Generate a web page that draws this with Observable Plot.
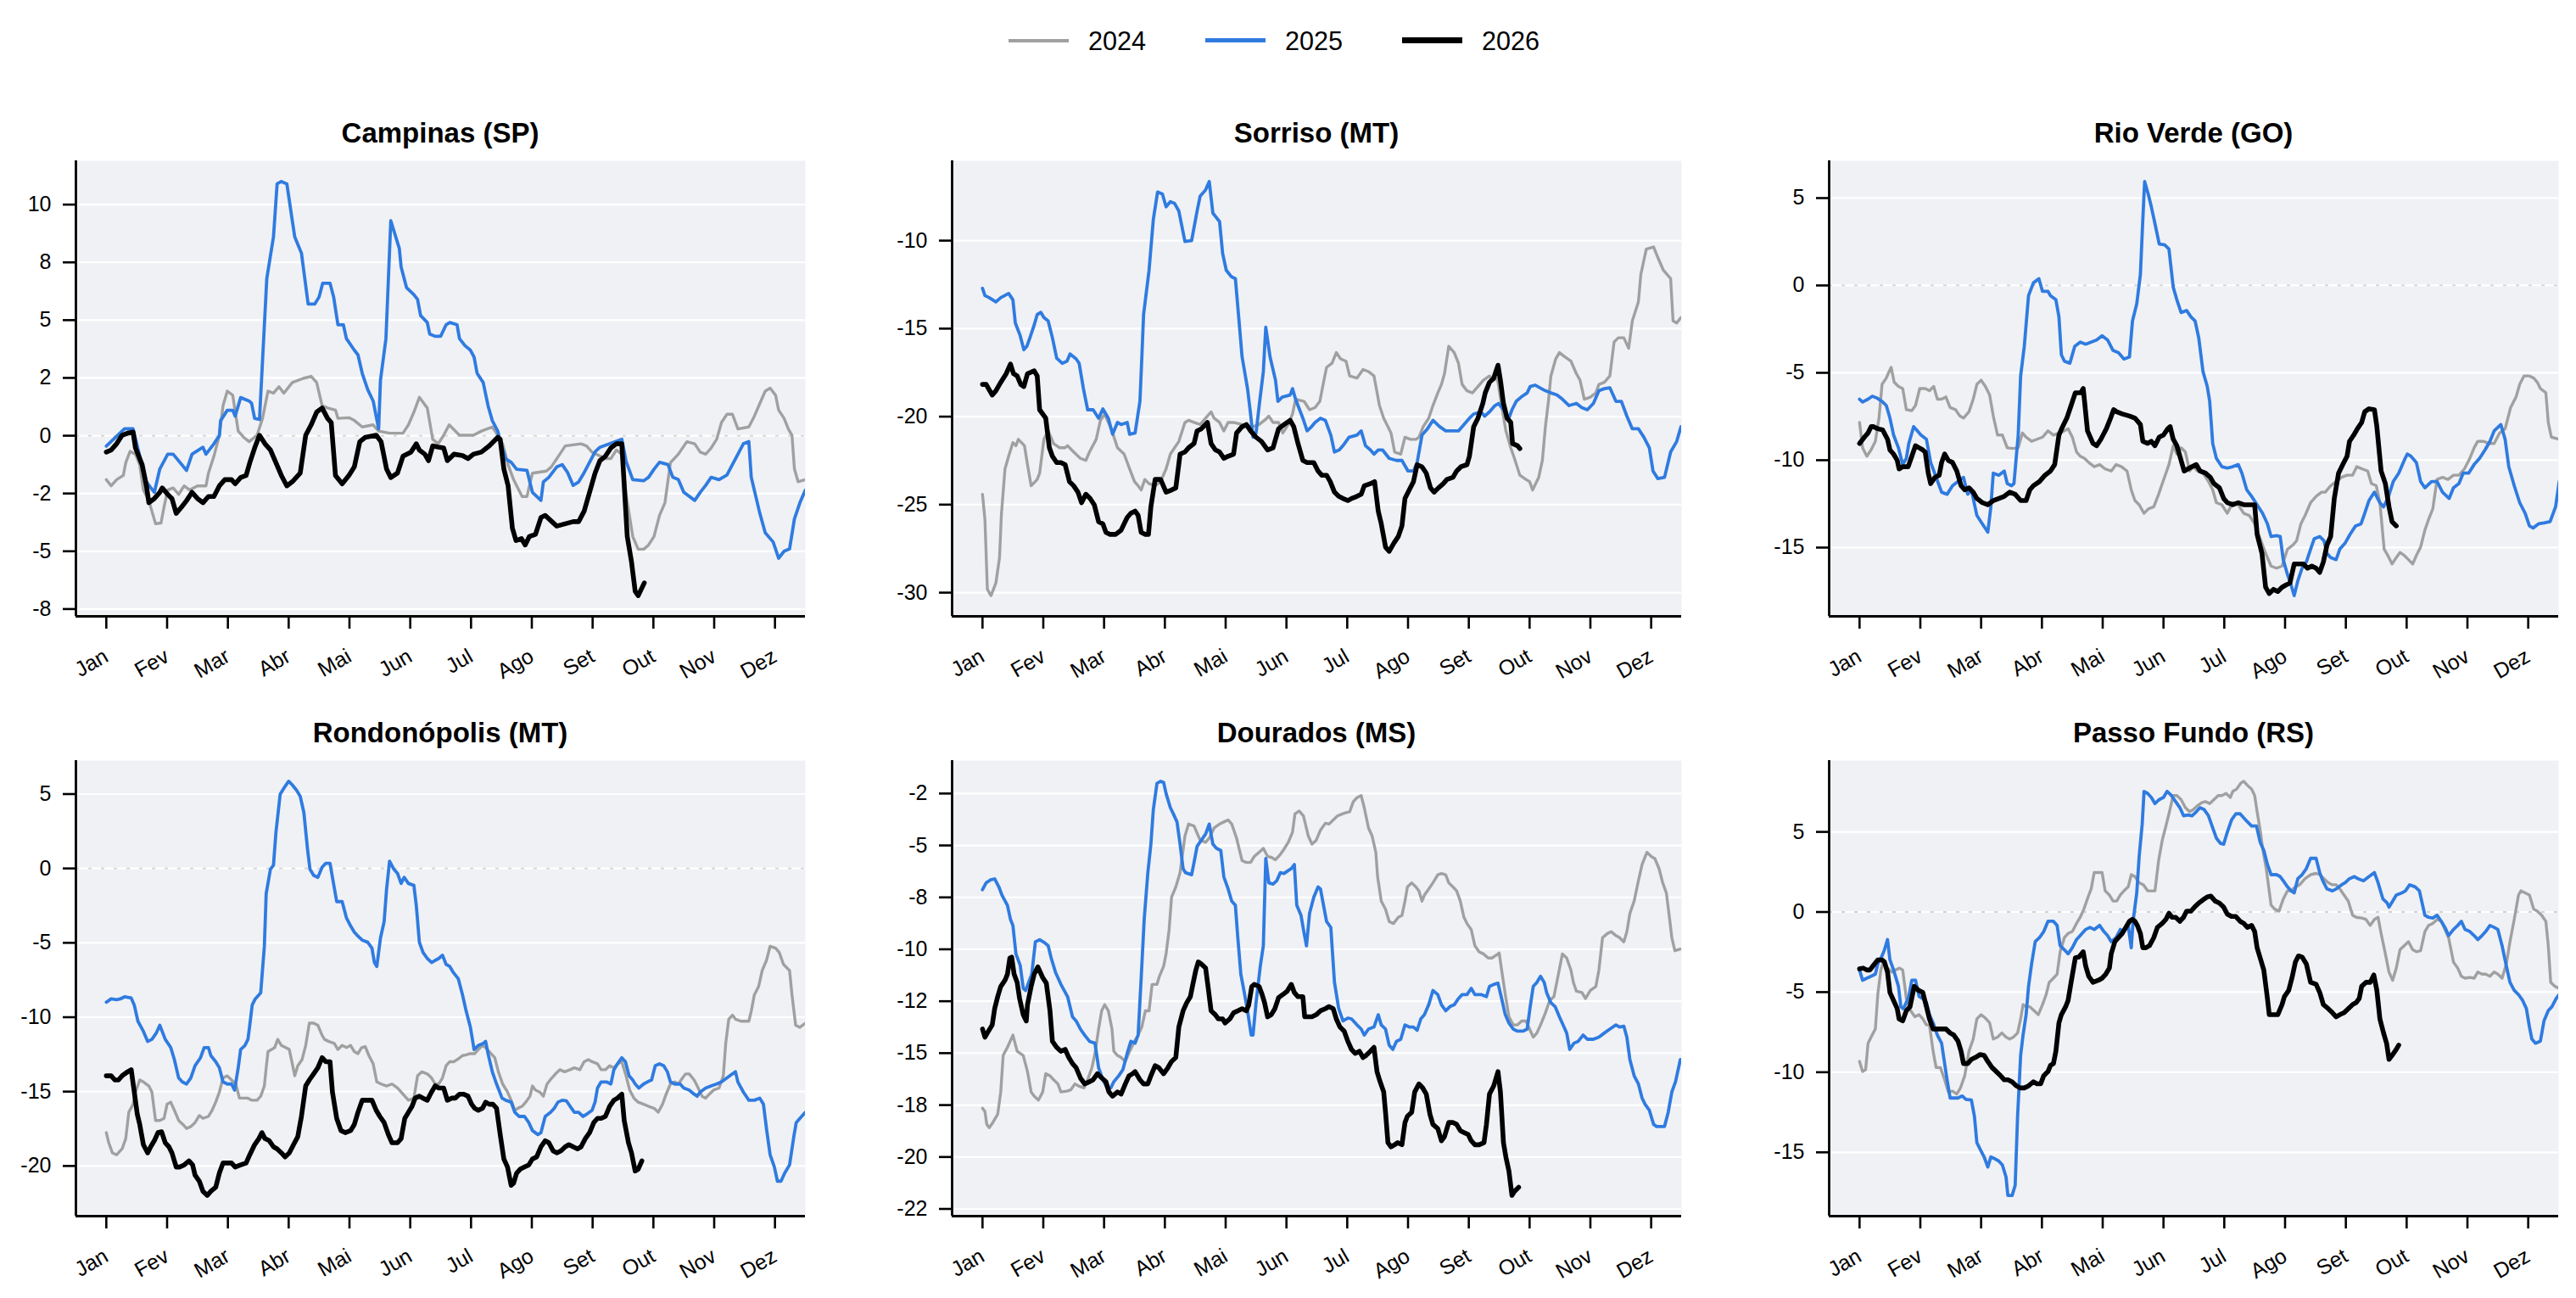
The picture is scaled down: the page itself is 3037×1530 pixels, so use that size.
<!DOCTYPE html>
<html><head><meta charset="utf-8">
<script src="https://cdn.jsdelivr.net/npm/d3@7"></script>
<script src="https://cdn.jsdelivr.net/npm/@observablehq/plot@0.6"></script>
<style>
html,body{margin:0;padding:0;background:#fff;}
#root{position:relative;width:3037px;height:1530px;font-family:"Liberation Sans",Arial,Helvetica,sans-serif;color:#000;overflow:hidden;}
.title{position:absolute;font-weight:bold;font-size:33px;text-align:center;line-height:40px;white-space:nowrap;}
.leg{position:absolute;font-size:30.6px;line-height:40px;}
.sw{position:absolute;height:0;}
.panel{position:absolute;}
</style></head><body><div id="root"></div>
<script>
const months = ["Jan","Fev","Mar","Abr","Mai","Jun","Jul","Ago","Set","Out","Nov","Dez"];
const years = ["2024","2025","2026"];
const cities = ["Campinas (SP)","Sorriso (MT)","Rio Verde (GO)","Rondonópolis (MT)","Dourados (MS)","Passo Fundo (RS)"];
const tickSteps = [2.5,5,5,5,2.5,5];

// [month position (Jan = 0), value]
const campinas2024 = [[0.00,-1.90],[0.08,-2.17],[0.17,-1.90],[0.28,-1.72],[0.32,-1.17],[0.39,-0.68],[0.48,-0.80],[0.55,-1.26],[0.61,-2.35],[0.70,-2.81],[0.81,-3.81],[0.90,-3.78],[0.95,-3.08],[1.01,-2.35],[1.10,-2.26],[1.19,-2.54],[1.28,-2.17],[1.37,-2.35],[1.50,-2.17],[1.64,-2.17],[1.68,-1.62],[1.77,-0.89],[1.86,0.02],[1.92,1.30],[1.99,1.93],[2.08,1.75],[2.17,0.20],[2.26,-0.07],[2.35,-0.26],[2.48,0.02],[2.57,0.75],[2.66,1.93],[2.75,1.84],[2.84,2.12],[2.92,1.84],[3.06,2.30],[3.24,2.48],[3.37,2.57],[3.46,2.30],[3.55,1.30],[3.64,1.20],[3.77,1.11],[3.81,0.75],[3.99,0.78],[4.08,0.66],[4.21,0.38],[4.39,0.47],[4.48,0.20],[4.66,0.11],[4.88,0.11],[4.97,0.47],[5.06,1.02],[5.15,1.66],[5.28,1.20],[5.37,-0.16],[5.46,-0.35],[5.55,0.02],[5.64,0.47],[5.81,0.02],[6.04,0.02],[6.17,0.20],[6.35,0.38],[6.44,0.02],[6.52,-0.35],[6.61,-1.26],[6.70,-1.90],[6.84,-2.63],[6.92,-2.63],[7.01,-1.62],[7.24,-1.53],[7.32,-1.35],[7.46,-0.80],[7.55,-0.44],[7.81,-0.35],[7.90,-0.44],[7.99,-0.71],[8.21,-0.99],[8.30,-0.99],[8.39,-0.62],[8.48,-0.80],[8.55,-2.54],[8.66,-4.36],[8.75,-4.91],[8.84,-4.91],[8.92,-4.73],[9.01,-4.36],[9.10,-3.45],[9.19,-2.90],[9.28,-1.17],[9.41,-0.80],[9.55,-0.26],[9.68,-0.35],[9.77,-0.71],[9.86,-0.80],[9.95,-0.53],[10.04,-0.16],[10.12,0.57],[10.21,0.93],[10.30,0.93],[10.39,0.29],[10.57,0.38],[10.66,0.84],[10.75,1.39],[10.84,1.93],[10.92,2.06],[11.01,1.75],[11.06,1.11],[11.15,0.75],[11.22,0.29],[11.28,0.02],[11.32,-1.44],[11.38,-1.99],[11.50,-1.90]];
const campinas2025 = [[0.00,-0.45],[0.08,-0.25],[0.30,0.30],[0.44,0.30],[0.57,-1.10],[0.66,-2.00],[0.79,-2.45],[0.88,-1.44],[1.01,-0.80],[1.10,-0.80],[1.32,-1.50],[1.41,-0.80],[1.59,-0.50],[1.64,-0.80],[1.77,-0.35],[1.86,0.00],[1.88,0.65],[1.99,1.10],[2.08,1.10],[2.12,0.85],[2.21,1.65],[2.35,1.50],[2.39,1.40],[2.44,0.75],[2.52,0.70],[2.64,6.80],[2.75,8.60],[2.81,10.90],[2.88,11.00],[2.97,10.90],[3.06,9.30],[3.10,8.60],[3.21,7.90],[3.32,5.70],[3.43,5.70],[3.50,6.00],[3.56,6.60],[3.68,6.60],[3.74,6.00],[3.81,4.80],[3.90,4.80],[3.95,4.20],[4.08,3.70],[4.14,3.50],[4.21,2.70],[4.30,2.00],[4.39,1.50],[4.48,0.30],[4.51,2.40],[4.60,4.20],[4.68,9.30],[4.75,8.70],[4.82,8.10],[4.85,7.30],[4.94,6.40],[5.06,6.10],[5.12,5.90],[5.17,5.20],[5.28,4.90],[5.32,4.40],[5.41,4.30],[5.50,4.30],[5.59,4.80],[5.65,4.90],[5.77,4.80],[5.81,4.20],[5.90,3.90],[5.99,3.70],[6.05,3.40],[6.10,2.70],[6.20,2.30],[6.28,1.30],[6.35,0.65],[6.44,0.20],[6.48,-0.25],[6.57,-1.00],[6.66,-1.15],[6.75,-1.45],[6.92,-1.50],[7.01,-2.45],[7.15,-2.80],[7.19,-2.00],[7.28,-1.80],[7.41,-1.35],[7.50,-1.25],[7.59,-1.60],[7.68,-2.15],[7.77,-2.00],[7.86,-1.60],[7.95,-1.15],[8.04,-0.70],[8.12,-0.50],[8.48,-0.15],[8.55,-1.10],[8.66,-1.90],[8.84,-1.95],[8.92,-1.80],[9.01,-1.45],[9.10,-1.15],[9.24,-1.25],[9.32,-1.80],[9.41,-1.90],[9.50,-2.45],[9.68,-2.80],[9.77,-2.45],[9.86,-2.15],[9.95,-1.80],[10.08,-1.90],[10.21,-1.70],[10.30,-1.25],[10.39,-0.80],[10.48,-0.35],[10.57,-0.25],[10.61,-1.80],[10.75,-3.35],[10.84,-4.20],[10.97,-4.60],[11.06,-5.30],[11.15,-5.00],[11.24,-4.90],[11.32,-3.60],[11.41,-2.90],[11.50,-2.35]];
const campinas2026 = [[0.00,-0.71],[0.08,-0.62],[0.17,-0.35],[0.26,0.02],[0.35,0.11],[0.44,0.16],[0.48,-0.53],[0.59,-1.26],[0.66,-2.17],[0.70,-2.90],[0.79,-2.72],[0.88,-2.45],[0.92,-2.26],[1.01,-2.54],[1.08,-2.72],[1.15,-3.36],[1.24,-3.08],[1.32,-2.81],[1.41,-2.45],[1.50,-2.72],[1.59,-2.90],[1.68,-2.63],[1.77,-2.63],[1.86,-2.17],[1.95,-1.90],[2.06,-1.90],[2.12,-2.08],[2.21,-1.81],[2.30,-1.72],[2.36,-1.17],[2.44,-0.53],[2.52,0.02],[2.61,-0.35],[2.70,-0.62],[2.79,-1.17],[2.88,-1.72],[2.97,-2.17],[3.06,-1.99],[3.19,-1.62],[3.28,0.02],[3.37,0.47],[3.46,1.02],[3.55,1.20],[3.64,0.75],[3.70,0.57],[3.77,-1.72],[3.88,-2.08],[3.99,-1.72],[4.08,-1.35],[4.17,-0.26],[4.26,-0.07],[4.44,0.02],[4.52,-0.26],[4.61,-1.44],[4.68,-1.81],[4.79,-1.62],[4.88,-0.89],[5.01,-0.71],[5.10,-0.35],[5.15,-0.62],[5.24,-0.80],[5.30,-1.08],[5.37,-0.44],[5.46,-0.49],[5.55,-0.53],[5.61,-1.08],[5.72,-0.80],[5.86,-0.86],[5.95,-0.99],[6.04,-0.80],[6.17,-0.71],[6.30,-0.44],[6.44,-0.07],[6.48,-0.16],[6.54,-1.44],[6.61,-2.17],[6.68,-4.00],[6.74,-4.54],[6.83,-4.45],[6.89,-4.73],[6.96,-4.36],[7.06,-4.27],[7.15,-3.54],[7.22,-3.45],[7.33,-3.72],[7.41,-3.91],[7.55,-3.81],[7.68,-3.72],[7.77,-3.72],[7.86,-3.27],[7.95,-2.45],[8.04,-1.62],[8.12,-1.08],[8.21,-0.89],[8.30,-0.53],[8.39,-0.35],[8.48,-0.35],[8.57,-4.36],[8.64,-5.46],[8.70,-6.73],[8.75,-6.92],[8.85,-6.37]];

const sorriso2024 = [[0.00,-24.41],[0.04,-25.85],[0.08,-29.81],[0.14,-30.17],[0.22,-29.45],[0.28,-28.01],[0.31,-25.61],[0.37,-22.97],[0.43,-22.25],[0.50,-21.48],[0.55,-21.65],[0.59,-21.29],[0.69,-21.65],[0.74,-22.73],[0.80,-23.93],[0.90,-23.57],[0.94,-23.21],[1.01,-21.29],[1.08,-20.81],[1.17,-21.53],[1.27,-21.77],[1.36,-21.77],[1.40,-21.65],[1.50,-22.01],[1.61,-22.37],[1.70,-22.49],[1.76,-22.01],[1.87,-21.29],[1.94,-20.21],[2.01,-19.85],[2.07,-20.33],[2.13,-20.81],[2.22,-21.77],[2.33,-22.13],[2.42,-22.97],[2.50,-23.69],[2.56,-23.93],[2.61,-24.17],[2.67,-23.57],[2.74,-23.81],[2.84,-23.93],[2.93,-23.69],[3.02,-22.97],[3.09,-22.13],[3.16,-21.77],[3.23,-21.41],[3.33,-20.33],[3.39,-20.21],[3.48,-20.33],[3.58,-20.45],[3.67,-20.09],[3.76,-19.73],[3.81,-20.09],[3.90,-20.33],[3.97,-20.81],[4.04,-20.33],[4.13,-20.33],[4.27,-20.45],[4.45,-20.57],[4.55,-20.45],[4.64,-20.21],[4.71,-19.97],[4.78,-20.33],[4.87,-20.33],[4.94,-20.93],[5.03,-20.45],[5.10,-19.85],[5.15,-19.01],[5.29,-19.13],[5.38,-19.61],[5.47,-19.49],[5.55,-19.13],[5.61,-18.05],[5.66,-17.20],[5.75,-16.97],[5.82,-16.36],[5.89,-16.72],[5.98,-16.85],[6.04,-17.69],[6.16,-17.81],[6.26,-17.32],[6.35,-17.44],[6.44,-17.69],[6.53,-19.37],[6.60,-20.09],[6.67,-20.57],[6.72,-20.93],[6.78,-22.01],[6.88,-22.13],[6.95,-21.17],[7.04,-21.29],[7.13,-21.29],[7.18,-21.17],[7.25,-20.57],[7.34,-20.09],[7.41,-19.37],[7.49,-18.65],[7.55,-18.17],[7.60,-17.56],[7.67,-16.00],[7.76,-16.36],[7.83,-16.97],[7.89,-18.17],[7.97,-18.53],[8.06,-18.65],[8.15,-18.29],[8.24,-17.93],[8.34,-17.69],[8.41,-17.93],[8.47,-17.81],[8.54,-19.37],[8.61,-20.81],[8.69,-21.77],[8.75,-22.37],[8.84,-23.33],[8.94,-23.57],[9.00,-23.69],[9.05,-24.17],[9.15,-23.45],[9.21,-22.49],[9.26,-20.57],[9.31,-19.13],[9.35,-17.69],[9.43,-16.72],[9.49,-16.36],[9.58,-16.60],[9.68,-16.85],[9.77,-17.56],[9.83,-17.93],[9.90,-19.01],[10.00,-18.89],[10.09,-18.65],[10.14,-18.17],[10.23,-18.05],[10.32,-17.69],[10.39,-15.76],[10.46,-15.52],[10.55,-15.52],[10.63,-16.12],[10.69,-14.56],[10.79,-13.48],[10.83,-11.92],[10.92,-10.48],[11.04,-10.36],[11.11,-10.96],[11.20,-11.68],[11.32,-12.16],[11.36,-14.56],[11.42,-14.68],[11.49,-14.37]];
const sorriso2025 = [[0.00,-12.71],[0.04,-13.12],[0.11,-13.24],[0.22,-13.48],[0.30,-13.24],[0.43,-13.00],[0.50,-13.36],[0.54,-14.68],[0.62,-15.40],[0.68,-16.20],[0.73,-16.00],[0.78,-15.52],[0.85,-14.80],[0.90,-14.20],[0.96,-14.08],[1.01,-14.37],[1.08,-14.56],[1.15,-15.52],[1.22,-16.68],[1.31,-16.97],[1.39,-16.85],[1.44,-16.44],[1.54,-16.72],[1.59,-16.97],[1.66,-18.41],[1.73,-19.61],[1.82,-19.61],[1.91,-20.09],[1.98,-19.56],[2.07,-20.09],[2.14,-21.00],[2.22,-20.33],[2.28,-20.45],[2.38,-20.33],[2.42,-21.00],[2.51,-20.93],[2.59,-19.13],[2.62,-16.72],[2.65,-14.20],[2.74,-11.68],[2.81,-8.80],[2.88,-7.24],[2.96,-7.36],[3.02,-8.08],[3.09,-7.79],[3.16,-7.89],[3.23,-8.32],[3.33,-10.05],[3.44,-10.00],[3.53,-8.32],[3.58,-7.48],[3.67,-7.12],[3.73,-6.64],[3.79,-8.44],[3.90,-8.92],[3.95,-10.72],[4.01,-11.68],[4.09,-12.04],[4.16,-12.16],[4.22,-14.56],[4.27,-16.60],[4.36,-18.41],[4.41,-19.85],[4.45,-21.17],[4.50,-20.93],[4.56,-19.13],[4.62,-17.44],[4.66,-14.92],[4.73,-16.60],[4.82,-17.93],[4.86,-19.13],[4.93,-18.89],[5.06,-18.77],[5.10,-18.41],[5.15,-19.01],[5.19,-19.37],[5.27,-20.09],[5.34,-20.81],[5.40,-20.62],[5.47,-20.33],[5.56,-20.09],[5.64,-20.21],[5.73,-21.05],[5.79,-22.01],[5.87,-21.89],[5.93,-21.65],[6.03,-21.17],[6.16,-21.05],[6.23,-20.81],[6.30,-21.65],[6.38,-21.89],[6.44,-22.13],[6.51,-21.89],[6.58,-21.89],[6.69,-22.37],[6.81,-22.49],[6.90,-22.49],[7.00,-23.09],[7.09,-23.09],[7.15,-22.61],[7.23,-21.05],[7.32,-20.69],[7.41,-20.21],[7.52,-20.57],[7.62,-20.81],[7.74,-20.81],[7.83,-20.81],[7.92,-20.45],[8.01,-20.09],[8.08,-19.85],[8.20,-19.73],[8.26,-19.97],[8.34,-19.73],[8.43,-19.37],[8.49,-19.25],[8.57,-19.61],[8.66,-20.09],[8.71,-19.61],[8.78,-19.13],[8.86,-18.89],[8.96,-18.65],[9.01,-18.29],[9.09,-18.21],[9.17,-18.36],[9.26,-18.53],[9.35,-18.65],[9.45,-18.77],[9.54,-19.01],[9.65,-19.37],[9.77,-19.25],[9.86,-19.49],[9.95,-19.61],[10.05,-19.25],[10.14,-18.53],[10.23,-18.41],[10.32,-18.36],[10.42,-19.13],[10.51,-19.13],[10.60,-19.97],[10.69,-20.69],[10.79,-20.69],[10.88,-21.17],[10.97,-21.77],[11.03,-23.09],[11.11,-23.52],[11.22,-23.45],[11.32,-22.01],[11.42,-21.41],[11.49,-20.57]];
const sorriso2026 = [[0.00,-18.17],[0.06,-18.17],[0.16,-18.77],[0.22,-18.53],[0.30,-18.05],[0.39,-17.56],[0.46,-17.01],[0.51,-17.56],[0.57,-17.69],[0.63,-18.17],[0.68,-18.29],[0.74,-17.56],[0.85,-17.40],[0.90,-17.69],[0.94,-19.61],[1.04,-20.09],[1.10,-21.77],[1.15,-22.25],[1.22,-22.61],[1.29,-22.61],[1.36,-22.73],[1.43,-23.69],[1.50,-23.93],[1.57,-24.29],[1.63,-24.89],[1.70,-24.41],[1.77,-24.65],[1.84,-25.02],[1.91,-25.97],[1.98,-26.09],[2.03,-26.57],[2.10,-26.69],[2.19,-26.69],[2.28,-26.45],[2.38,-25.73],[2.44,-25.49],[2.51,-25.37],[2.56,-25.61],[2.61,-26.57],[2.68,-26.69],[2.73,-26.69],[2.77,-25.13],[2.84,-23.57],[2.93,-23.57],[3.02,-24.29],[3.11,-24.17],[3.18,-24.05],[3.25,-22.13],[3.33,-22.01],[3.39,-21.77],[3.48,-21.53],[3.53,-20.81],[3.60,-20.69],[3.70,-20.33],[3.76,-21.53],[3.83,-21.89],[3.90,-22.01],[3.97,-22.37],[4.04,-22.25],[4.13,-22.13],[4.18,-20.93],[4.27,-20.57],[4.34,-20.45],[4.41,-20.81],[4.50,-21.17],[4.59,-21.41],[4.69,-21.89],[4.78,-21.77],[4.87,-20.69],[4.96,-20.45],[5.06,-20.21],[5.12,-20.57],[5.19,-21.53],[5.27,-22.49],[5.34,-22.61],[5.45,-22.61],[5.52,-23.09],[5.58,-23.33],[5.66,-23.33],[5.72,-23.69],[5.79,-24.29],[5.86,-24.53],[5.93,-24.65],[6.01,-24.77],[6.07,-24.65],[6.16,-24.53],[6.23,-24.41],[6.28,-23.93],[6.38,-23.81],[6.45,-23.69],[6.51,-25.37],[6.56,-26.09],[6.63,-27.41],[6.69,-27.65],[6.77,-27.17],[6.84,-26.81],[6.90,-26.21],[6.95,-24.65],[7.02,-24.17],[7.09,-23.69],[7.15,-22.73],[7.23,-22.85],[7.30,-23.21],[7.37,-24.05],[7.43,-24.29],[7.50,-24.05],[7.58,-23.81],[7.64,-23.57],[7.74,-23.45],[7.80,-23.09],[7.87,-22.85],[7.97,-22.73],[8.01,-22.25],[8.08,-20.57],[8.15,-20.09],[8.23,-19.25],[8.27,-18.65],[8.34,-18.05],[8.41,-17.81],[8.48,-17.08],[8.52,-17.93],[8.57,-19.25],[8.63,-20.09],[8.69,-20.33],[8.72,-21.53],[8.80,-21.65],[8.84,-21.82]];

const rioVerde2024 = [[0.00,-7.84],[0.05,-9.29],[0.12,-9.77],[0.19,-9.41],[0.26,-8.92],[0.32,-7.59],[0.37,-5.66],[0.44,-5.30],[0.47,-5.05],[0.52,-4.69],[0.57,-5.54],[0.64,-5.78],[0.71,-5.90],[0.77,-7.11],[0.86,-7.16],[0.92,-6.87],[0.99,-5.90],[1.08,-5.90],[1.15,-6.02],[1.22,-5.78],[1.28,-6.51],[1.35,-6.51],[1.42,-6.38],[1.49,-6.99],[1.58,-7.11],[1.65,-7.47],[1.71,-7.59],[1.80,-7.23],[1.87,-6.51],[1.93,-5.66],[2.00,-5.42],[2.07,-5.78],[2.14,-6.26],[2.20,-7.47],[2.27,-8.56],[2.35,-8.56],[2.43,-9.29],[2.52,-9.33],[2.61,-9.29],[2.68,-8.44],[2.74,-8.68],[2.83,-8.92],[2.92,-8.80],[3.01,-8.68],[3.10,-8.32],[3.19,-8.56],[3.28,-8.44],[3.37,-8.32],[3.43,-8.20],[3.50,-8.68],[3.57,-9.53],[3.63,-9.77],[3.70,-9.89],[3.77,-10.13],[3.86,-10.37],[3.95,-10.25],[4.04,-10.50],[4.14,-10.62],[4.22,-10.25],[4.31,-10.37],[4.40,-10.62],[4.47,-11.70],[4.53,-12.31],[4.60,-12.55],[4.68,-13.04],[4.75,-12.79],[4.84,-12.67],[4.92,-11.95],[4.98,-11.34],[5.04,-10.74],[5.09,-10.25],[5.16,-9.17],[5.22,-9.65],[5.29,-9.29],[5.36,-9.53],[5.43,-10.62],[5.49,-10.37],[5.56,-10.62],[5.65,-10.74],[5.74,-11.22],[5.81,-11.70],[5.87,-12.43],[5.96,-12.55],[6.05,-13.04],[6.14,-12.43],[6.23,-12.55],[6.32,-13.04],[6.41,-13.16],[6.50,-13.64],[6.59,-14.49],[6.68,-15.33],[6.77,-16.06],[6.86,-16.18],[6.95,-16.06],[7.04,-15.09],[7.13,-14.85],[7.19,-14.61],[7.26,-13.64],[7.33,-13.16],[7.42,-12.43],[7.51,-12.07],[7.60,-11.83],[7.66,-11.83],[7.75,-11.46],[7.84,-11.22],[7.93,-10.98],[8.02,-10.86],[8.11,-10.86],[8.18,-10.37],[8.27,-10.50],[8.36,-10.62],[8.42,-11.34],[8.50,-11.46],[8.56,-12.43],[8.63,-15.09],[8.69,-15.45],[8.76,-15.94],[8.83,-15.57],[8.89,-15.28],[8.96,-15.45],[9.03,-15.69],[9.10,-15.94],[9.16,-15.45],[9.23,-14.97],[9.30,-14.00],[9.36,-13.40],[9.43,-12.79],[9.50,-11.10],[9.59,-10.98],[9.68,-11.10],[9.77,-10.86],[9.86,-10.86],[9.95,-10.50],[10.04,-9.89],[10.11,-9.29],[10.17,-8.92],[10.26,-8.92],[10.35,-9.04],[10.44,-9.04],[10.53,-8.44],[10.62,-8.20],[10.71,-6.99],[10.80,-6.38],[10.86,-5.66],[10.93,-5.18],[11.02,-5.18],[11.09,-5.30],[11.15,-5.54],[11.20,-5.90],[11.29,-6.14],[11.33,-7.84],[11.38,-8.68],[11.51,-8.80]];
const rioVerde2025 = [[0.00,-6.51],[0.05,-6.67],[0.14,-6.51],[0.21,-6.34],[0.28,-6.43],[0.37,-6.63],[0.44,-6.87],[0.50,-7.59],[0.56,-8.56],[0.64,-9.29],[0.71,-10.25],[0.77,-9.89],[0.81,-9.04],[0.89,-8.08],[0.95,-8.32],[1.01,-8.56],[1.10,-8.80],[1.17,-10.13],[1.26,-10.98],[1.35,-11.83],[1.44,-11.95],[1.53,-11.46],[1.62,-11.22],[1.71,-10.98],[1.78,-11.95],[1.84,-11.70],[1.93,-13.16],[2.02,-13.64],[2.11,-14.12],[2.16,-12.67],[2.20,-10.74],[2.29,-10.86],[2.38,-10.62],[2.43,-11.34],[2.50,-11.46],[2.54,-11.34],[2.61,-8.56],[2.65,-5.18],[2.71,-3.48],[2.78,-0.58],[2.86,0.15],[2.95,0.39],[3.01,-0.34],[3.10,-0.34],[3.14,-0.58],[3.23,-0.82],[3.28,-1.79],[3.32,-3.97],[3.37,-4.33],[3.46,-4.45],[3.54,-3.48],[3.63,-3.24],[3.72,-3.36],[3.81,-3.24],[3.90,-3.12],[3.99,-2.88],[4.08,-3.12],[4.17,-3.72],[4.26,-3.85],[4.35,-4.21],[4.44,-4.09],[4.49,-2.03],[4.56,-1.06],[4.62,0.63],[4.66,3.77],[4.69,5.95],[4.75,5.22],[4.80,4.50],[4.86,3.53],[4.93,2.37],[5.02,2.32],[5.09,2.08],[5.16,-0.10],[5.22,-0.82],[5.29,-1.55],[5.38,-1.43],[5.45,-1.79],[5.52,-2.03],[5.58,-3.00],[5.65,-4.93],[5.72,-5.78],[5.76,-6.63],[5.81,-9.05],[5.87,-9.89],[5.96,-10.37],[6.05,-10.45],[6.14,-10.37],[6.23,-10.25],[6.29,-10.74],[6.37,-11.70],[6.45,-12.07],[6.54,-12.55],[6.63,-13.04],[6.71,-13.64],[6.77,-14.37],[6.86,-14.32],[6.92,-14.37],[6.97,-15.69],[7.04,-16.54],[7.10,-17.15],[7.15,-17.75],[7.21,-16.90],[7.28,-16.18],[7.35,-15.82],[7.42,-15.09],[7.48,-14.49],[7.57,-14.37],[7.64,-14.61],[7.69,-15.33],[7.75,-15.57],[7.84,-15.69],[7.90,-15.09],[7.99,-14.73],[8.07,-14.24],[8.16,-13.76],[8.25,-13.64],[8.31,-13.04],[8.38,-12.31],[8.47,-11.83],[8.56,-12.43],[8.62,-12.67],[8.69,-12.19],[8.78,-11.22],[8.87,-10.74],[8.96,-10.01],[9.01,-9.65],[9.07,-9.77],[9.16,-10.13],[9.23,-11.22],[9.30,-11.58],[9.41,-11.22],[9.50,-11.22],[9.59,-11.83],[9.70,-12.19],[9.77,-11.58],[9.86,-11.34],[9.93,-10.74],[10.02,-10.74],[10.11,-10.25],[10.20,-9.89],[10.29,-9.41],[10.37,-8.92],[10.44,-8.32],[10.55,-7.96],[10.62,-8.80],[10.68,-10.37],[10.77,-11.46],[10.86,-12.43],[10.95,-13.04],[11.02,-13.76],[11.08,-13.88],[11.17,-13.64],[11.26,-13.59],[11.36,-13.52],[11.45,-12.67],[11.51,-11.22]];
const rioVerde2026 = [[0.00,-9.04],[0.08,-8.68],[0.14,-8.44],[0.19,-8.08],[0.23,-8.08],[0.30,-8.20],[0.38,-8.27],[0.46,-8.80],[0.50,-9.41],[0.56,-9.65],[0.62,-10.01],[0.65,-10.50],[0.71,-10.37],[0.80,-10.37],[0.86,-9.77],[0.92,-9.17],[0.98,-9.29],[1.04,-9.41],[1.08,-9.53],[1.13,-10.74],[1.17,-11.34],[1.24,-10.98],[1.31,-10.86],[1.35,-10.13],[1.40,-9.65],[1.46,-10.01],[1.53,-10.13],[1.60,-10.62],[1.67,-11.46],[1.73,-11.70],[1.80,-11.58],[1.87,-11.83],[1.93,-12.19],[2.02,-12.43],[2.11,-12.55],[2.20,-12.31],[2.29,-12.19],[2.38,-12.07],[2.47,-11.83],[2.56,-11.95],[2.65,-12.31],[2.74,-12.31],[2.80,-11.70],[2.86,-11.46],[2.96,-11.22],[3.05,-10.86],[3.14,-10.62],[3.21,-10.25],[3.28,-8.56],[3.34,-8.08],[3.41,-7.59],[3.48,-6.87],[3.55,-6.14],[3.64,-6.14],[3.68,-5.90],[3.75,-8.32],[3.84,-9.04],[3.90,-9.17],[3.97,-8.80],[4.06,-8.20],[4.13,-7.59],[4.18,-7.11],[4.23,-7.23],[4.32,-7.35],[4.44,-7.47],[4.53,-7.59],[4.62,-7.96],[4.66,-8.92],[4.74,-9.04],[4.80,-8.92],[4.86,-9.17],[4.93,-8.68],[5.00,-8.56],[5.07,-8.20],[5.11,-8.08],[5.16,-8.80],[5.22,-9.17],[5.27,-9.77],[5.34,-10.62],[5.40,-10.50],[5.47,-10.37],[5.54,-10.25],[5.60,-10.62],[5.69,-10.74],[5.77,-10.98],[5.83,-11.34],[5.92,-11.58],[5.99,-12.19],[6.05,-12.43],[6.14,-12.55],[6.23,-12.43],[6.32,-12.55],[6.44,-12.55],[6.50,-12.55],[6.54,-14.24],[6.62,-15.33],[6.68,-17.27],[6.74,-17.63],[6.81,-17.39],[6.88,-17.51],[6.95,-17.27],[7.01,-17.15],[7.08,-17.03],[7.15,-15.94],[7.21,-15.94],[7.30,-15.94],[7.37,-16.18],[7.44,-16.06],[7.51,-16.18],[7.57,-16.42],[7.63,-15.82],[7.69,-14.85],[7.75,-14.37],[7.81,-12.19],[7.88,-10.74],[7.95,-10.25],[8.02,-9.77],[8.06,-8.92],[8.13,-8.56],[8.19,-8.20],[8.26,-7.84],[8.31,-7.23],[8.38,-7.06],[8.47,-7.11],[8.51,-8.08],[8.58,-10.62],[8.65,-11.34],[8.71,-12.67],[8.76,-13.52],[8.83,-13.76]];

const rondonopolis2024 = [[0.00,-17.76],[0.04,-18.44],[0.10,-19.12],[0.17,-19.25],[0.26,-18.85],[0.32,-18.16],[0.37,-16.39],[0.44,-15.85],[0.48,-15.03],[0.55,-14.22],[0.61,-14.35],[0.70,-14.62],[0.75,-15.03],[0.81,-16.94],[0.88,-16.94],[0.95,-16.80],[1.00,-15.85],[1.06,-15.71],[1.12,-16.26],[1.19,-16.94],[1.26,-17.21],[1.32,-17.48],[1.39,-17.35],[1.46,-17.08],[1.53,-16.61],[1.59,-16.80],[1.68,-16.67],[1.74,-16.26],[1.80,-15.71],[1.86,-15.03],[1.92,-14.08],[1.99,-13.94],[2.06,-14.22],[2.13,-14.49],[2.19,-15.44],[2.26,-15.44],[2.33,-15.44],[2.39,-15.58],[2.48,-15.58],[2.54,-15.31],[2.60,-14.62],[2.63,-13.40],[2.66,-12.31],[2.72,-12.17],[2.77,-12.04],[2.82,-11.49],[2.88,-11.90],[2.95,-12.04],[3.01,-12.17],[3.06,-13.13],[3.10,-13.94],[3.15,-13.26],[3.22,-12.85],[3.28,-11.90],[3.34,-10.40],[3.41,-10.40],[3.48,-10.54],[3.55,-11.22],[3.59,-11.49],[3.66,-11.63],[3.75,-11.76],[3.81,-12.17],[3.88,-11.90],[3.95,-12.04],[4.02,-11.90],[4.08,-12.31],[4.14,-12.45],[4.20,-12.04],[4.26,-11.98],[4.32,-12.58],[4.39,-13.13],[4.45,-14.35],[4.52,-14.49],[4.61,-14.62],[4.70,-14.49],[4.79,-14.76],[4.88,-15.17],[4.97,-15.58],[5.06,-15.44],[5.12,-13.94],[5.19,-13.67],[5.28,-13.81],[5.35,-14.08],[5.41,-14.49],[5.47,-14.49],[5.53,-14.08],[5.59,-13.26],[5.65,-12.99],[5.72,-12.99],[5.79,-12.80],[5.86,-12.58],[5.92,-12.53],[5.99,-12.45],[6.06,-12.45],[6.12,-12.17],[6.19,-11.90],[6.24,-12.04],[6.30,-12.31],[6.39,-12.72],[6.45,-13.67],[6.52,-14.49],[6.60,-15.03],[6.66,-15.58],[6.72,-16.26],[6.77,-16.12],[6.84,-15.99],[6.90,-15.71],[6.97,-15.31],[7.01,-14.62],[7.06,-14.90],[7.13,-15.03],[7.19,-15.31],[7.25,-14.49],[7.33,-14.08],[7.39,-13.81],[7.46,-13.53],[7.54,-13.67],[7.63,-13.53],[7.70,-13.40],[7.79,-13.53],[7.86,-12.99],[7.93,-12.85],[7.99,-12.99],[8.08,-13.13],[8.14,-13.53],[8.21,-13.53],[8.28,-13.26],[8.35,-13.40],[8.41,-13.13],[8.48,-12.99],[8.55,-13.94],[8.61,-14.90],[8.68,-15.44],[8.75,-15.71],[8.84,-15.85],[8.92,-15.99],[9.01,-16.12],[9.08,-16.39],[9.15,-15.85],[9.21,-15.17],[9.28,-14.49],[9.35,-14.35],[9.41,-14.49],[9.48,-14.08],[9.53,-13.81],[9.59,-13.81],[9.67,-14.22],[9.72,-14.62],[9.80,-15.31],[9.86,-15.44],[9.92,-15.17],[9.99,-14.90],[10.08,-14.76],[10.15,-13.94],[10.19,-11.76],[10.24,-10.13],[10.30,-9.86],[10.35,-10.13],[10.44,-10.27],[10.53,-10.27],[10.57,-10.27],[10.61,-9.59],[10.66,-8.50],[10.73,-7.95],[10.79,-6.86],[10.86,-6.18],[10.92,-5.23],[11.01,-5.36],[11.07,-5.64],[11.14,-6.45],[11.24,-6.86],[11.28,-8.50],[11.34,-10.54],[11.41,-10.68],[11.50,-10.40]];
const rondonopolis2025 = [[0.00,-8.99],[0.08,-8.77],[0.17,-8.82],[0.23,-8.77],[0.30,-8.63],[0.41,-8.71],[0.46,-9.18],[0.52,-10.27],[0.61,-10.95],[0.68,-11.63],[0.75,-11.49],[0.82,-11.08],[0.88,-10.54],[0.97,-11.49],[1.06,-12.04],[1.12,-12.85],[1.19,-14.08],[1.25,-14.35],[1.32,-14.49],[1.39,-14.08],[1.46,-13.26],[1.55,-12.72],[1.61,-12.04],[1.68,-12.04],[1.72,-12.58],[1.80,-12.99],[1.86,-13.40],[1.92,-14.35],[1.99,-14.49],[2.06,-14.49],[2.11,-14.90],[2.17,-13.40],[2.21,-12.17],[2.28,-11.90],[2.33,-11.49],[2.36,-10.54],[2.40,-9.18],[2.45,-8.77],[2.51,-8.50],[2.54,-8.36],[2.60,-5.23],[2.63,-1.69],[2.70,-0.05],[2.75,0.22],[2.79,2.40],[2.86,4.98],[2.92,5.39],[3.00,5.86],[3.06,5.61],[3.13,5.26],[3.19,4.85],[3.25,3.76],[3.31,1.31],[3.35,-0.05],[3.41,-0.46],[3.48,-0.60],[3.55,0.08],[3.61,0.35],[3.68,0.35],[3.72,-0.60],[3.79,-2.23],[3.88,-2.23],[3.95,-3.32],[4.02,-3.87],[4.08,-4.28],[4.14,-4.55],[4.21,-4.82],[4.30,-4.96],[4.37,-5.36],[4.41,-6.32],[4.45,-6.59],[4.51,-4.68],[4.57,-3.59],[4.61,-1.42],[4.66,0.49],[4.73,-0.05],[4.79,-0.33],[4.85,-1.01],[4.90,-0.60],[4.97,-1.01],[5.06,-1.14],[5.10,-2.51],[5.15,-4.96],[5.21,-5.64],[5.28,-6.05],[5.35,-6.32],[5.41,-6.18],[5.47,-6.05],[5.53,-5.83],[5.59,-6.45],[5.65,-6.59],[5.71,-7.00],[5.79,-7.41],[5.86,-8.50],[5.92,-9.59],[5.99,-10.68],[6.05,-12.17],[6.12,-11.90],[6.20,-11.76],[6.24,-11.63],[6.28,-12.45],[6.35,-13.67],[6.42,-14.49],[6.51,-15.44],[6.57,-15.58],[6.66,-15.71],[6.72,-16.39],[6.79,-16.67],[6.88,-16.67],[6.95,-17.08],[7.01,-17.62],[7.10,-17.89],[7.15,-17.76],[7.22,-16.67],[7.31,-16.39],[7.37,-16.12],[7.43,-15.71],[7.50,-15.58],[7.57,-15.63],[7.63,-15.99],[7.70,-16.39],[7.77,-16.39],[7.84,-16.67],[7.90,-16.53],[7.99,-16.26],[8.04,-15.71],[8.08,-14.76],[8.14,-14.35],[8.23,-14.35],[8.30,-14.49],[8.35,-13.53],[8.41,-13.13],[8.48,-12.72],[8.54,-12.99],[8.60,-13.94],[8.66,-14.22],[8.70,-14.49],[8.76,-14.76],[8.84,-14.49],[8.90,-14.35],[8.97,-14.22],[9.03,-13.26],[9.10,-13.13],[9.17,-13.26],[9.23,-13.67],[9.28,-14.35],[9.35,-14.49],[9.44,-14.49],[9.50,-14.76],[9.59,-14.90],[9.67,-15.17],[9.72,-15.31],[9.77,-15.03],[9.86,-14.76],[9.95,-14.62],[10.04,-14.49],[10.12,-14.35],[10.21,-14.08],[10.30,-13.81],[10.35,-13.67],[10.39,-14.35],[10.48,-15.03],[10.57,-15.58],[10.66,-15.58],[10.75,-15.44],[10.81,-15.85],[10.86,-17.48],[10.92,-19.25],[10.99,-20.07],[11.04,-21.02],[11.10,-21.02],[11.16,-20.48],[11.24,-19.93],[11.31,-18.03],[11.35,-17.08],[11.41,-16.80],[11.50,-16.39]];
const rondonopolis2026 = [[0.00,-13.94],[0.08,-13.94],[0.14,-14.22],[0.20,-14.22],[0.26,-13.94],[0.35,-13.67],[0.41,-13.53],[0.46,-15.03],[0.51,-16.53],[0.55,-17.21],[0.61,-18.57],[0.68,-19.12],[0.73,-18.71],[0.79,-18.30],[0.85,-17.76],[0.91,-17.70],[0.97,-18.44],[1.03,-18.71],[1.08,-19.12],[1.15,-20.07],[1.21,-20.07],[1.28,-19.93],[1.36,-19.66],[1.42,-19.93],[1.46,-20.62],[1.53,-21.02],[1.59,-21.70],[1.66,-21.98],[1.72,-21.70],[1.80,-21.43],[1.86,-20.48],[1.92,-19.80],[1.99,-19.80],[2.06,-19.80],[2.12,-20.07],[2.21,-19.93],[2.30,-19.80],[2.36,-19.25],[2.44,-18.57],[2.51,-18.16],[2.56,-17.76],[2.61,-18.16],[2.68,-18.30],[2.75,-18.71],[2.81,-18.85],[2.88,-19.12],[2.94,-19.39],[3.01,-19.12],[3.08,-18.57],[3.15,-18.03],[3.21,-16.67],[3.28,-14.62],[3.34,-14.22],[3.41,-13.81],[3.48,-13.40],[3.55,-12.72],[3.61,-12.99],[3.68,-12.99],[3.72,-15.03],[3.79,-16.80],[3.86,-17.62],[3.93,-17.76],[4.02,-17.62],[4.08,-17.21],[4.14,-16.39],[4.21,-15.58],[4.30,-15.58],[4.37,-15.58],[4.44,-16.26],[4.50,-16.67],[4.57,-17.08],[4.64,-17.89],[4.70,-18.44],[4.79,-18.44],[4.85,-18.16],[4.91,-16.80],[4.97,-16.39],[5.03,-15.99],[5.08,-15.44],[5.15,-15.31],[5.21,-15.44],[5.28,-15.58],[5.35,-15.03],[5.41,-14.62],[5.47,-14.76],[5.55,-14.76],[5.61,-15.58],[5.68,-15.44],[5.74,-15.44],[5.81,-15.17],[5.88,-15.17],[5.95,-15.31],[6.01,-15.85],[6.06,-16.12],[6.12,-16.26],[6.19,-16.12],[6.24,-15.71],[6.30,-15.85],[6.36,-15.85],[6.42,-16.12],[6.48,-17.89],[6.54,-19.53],[6.60,-20.07],[6.66,-21.30],[6.70,-21.16],[6.75,-20.48],[6.81,-20.21],[6.88,-20.07],[6.95,-19.93],[7.01,-19.53],[7.08,-19.39],[7.15,-18.71],[7.22,-18.30],[7.28,-18.44],[7.35,-18.98],[7.41,-19.12],[7.48,-18.98],[7.55,-18.71],[7.61,-18.57],[7.68,-18.71],[7.75,-18.85],[7.81,-18.71],[7.88,-18.16],[7.95,-17.76],[8.02,-17.08],[8.08,-16.80],[8.14,-16.80],[8.21,-16.67],[8.28,-15.99],[8.35,-15.58],[8.41,-15.44],[8.48,-15.17],[8.52,-16.94],[8.59,-18.44],[8.64,-19.12],[8.70,-20.34],[8.75,-20.21],[8.81,-19.66]];

const dourados2024 = [[0.00,-17.65],[0.04,-17.81],[0.07,-18.43],[0.11,-18.59],[0.17,-18.34],[0.25,-17.94],[0.30,-16.87],[0.34,-15.11],[0.41,-14.72],[0.50,-14.13],[0.57,-14.91],[0.67,-15.11],[0.74,-15.89],[0.80,-16.87],[0.85,-17.07],[0.92,-17.26],[0.99,-16.87],[1.04,-15.99],[1.11,-16.09],[1.17,-16.28],[1.24,-16.48],[1.29,-16.87],[1.39,-16.83],[1.45,-16.77],[1.52,-16.48],[1.58,-16.58],[1.67,-16.67],[1.73,-16.28],[1.80,-15.70],[1.85,-15.01],[1.91,-13.84],[1.96,-12.96],[2.01,-12.67],[2.07,-12.96],[2.13,-13.84],[2.16,-14.91],[2.22,-15.11],[2.28,-15.21],[2.35,-15.40],[2.42,-14.91],[2.50,-14.43],[2.56,-14.13],[2.62,-13.74],[2.68,-12.96],[2.74,-12.96],[2.79,-11.69],[2.87,-11.69],[2.91,-11.30],[2.98,-10.81],[3.02,-10.22],[3.07,-9.05],[3.11,-7.49],[3.18,-7.00],[3.25,-6.31],[3.33,-4.55],[3.39,-3.97],[3.48,-4.06],[3.58,-4.75],[3.67,-4.85],[3.73,-4.65],[3.81,-4.16],[3.90,-3.97],[3.97,-3.87],[4.04,-3.77],[4.10,-3.97],[4.18,-4.65],[4.22,-5.14],[4.27,-5.73],[4.34,-5.82],[4.41,-5.82],[4.47,-5.53],[4.55,-5.33],[4.62,-5.14],[4.69,-5.53],[4.75,-5.57],[4.82,-5.69],[4.90,-5.43],[4.96,-5.18],[5.03,-4.85],[5.10,-4.36],[5.14,-3.48],[5.21,-3.34],[5.28,-3.58],[5.36,-4.55],[5.42,-4.94],[5.49,-4.75],[5.56,-4.26],[5.64,-3.93],[5.70,-3.97],[5.77,-3.77],[5.84,-3.58],[5.92,-3.48],[5.98,-3.42],[6.04,-3.38],[6.10,-2.89],[6.16,-2.70],[6.23,-2.60],[6.28,-3.18],[6.35,-4.16],[6.41,-4.55],[6.47,-5.33],[6.50,-6.51],[6.56,-7.68],[6.63,-8.07],[6.69,-8.66],[6.76,-8.76],[6.84,-8.46],[6.90,-8.37],[6.95,-7.68],[6.99,-7.00],[7.06,-6.80],[7.13,-7.00],[7.18,-7.19],[7.23,-7.68],[7.27,-7.39],[7.34,-7.10],[7.41,-6.80],[7.49,-6.41],[7.55,-6.35],[7.62,-6.41],[7.67,-6.80],[7.74,-7.00],[7.80,-7.19],[7.86,-7.68],[7.92,-8.46],[7.97,-8.76],[8.04,-9.05],[8.10,-9.83],[8.17,-10.12],[8.24,-10.22],[8.32,-10.42],[8.38,-10.42],[8.43,-10.32],[8.50,-10.18],[8.54,-11.00],[8.60,-12.18],[8.66,-13.25],[8.73,-13.64],[8.80,-13.64],[8.87,-13.45],[8.94,-13.45],[9.00,-13.84],[9.06,-14.23],[9.12,-14.03],[9.18,-13.64],[9.26,-13.06],[9.33,-12.47],[9.40,-12.28],[9.46,-11.40],[9.54,-10.22],[9.61,-10.42],[9.68,-11.00],[9.72,-11.59],[9.77,-12.02],[9.86,-12.08],[9.92,-12.37],[10.00,-11.98],[10.09,-11.79],[10.14,-11.00],[10.20,-9.44],[10.28,-9.24],[10.34,-9.15],[10.42,-9.34],[10.48,-9.44],[10.55,-9.64],[10.60,-9.15],[10.65,-8.27],[10.72,-7.68],[10.79,-6.70],[10.85,-5.92],[10.93,-5.33],[11.00,-5.53],[11.06,-5.63],[11.13,-6.12],[11.19,-6.80],[11.25,-7.29],[11.30,-8.46],[11.34,-9.44],[11.39,-10.07],[11.48,-9.99]];
const dourados2025 = [[0.00,-7.13],[0.06,-6.80],[0.13,-6.66],[0.20,-6.61],[0.27,-7.00],[0.32,-7.39],[0.41,-7.88],[0.46,-8.56],[0.50,-8.85],[0.55,-10.22],[0.62,-10.77],[0.67,-11.88],[0.71,-11.98],[0.76,-11.59],[0.81,-11.20],[0.87,-9.64],[0.94,-9.54],[1.02,-9.68],[1.08,-9.83],[1.13,-10.42],[1.20,-11.10],[1.29,-11.69],[1.40,-12.28],[1.48,-13.25],[1.54,-13.45],[1.61,-13.84],[1.68,-14.13],[1.76,-14.43],[1.85,-14.52],[1.91,-15.70],[1.98,-16.28],[2.05,-16.67],[2.11,-16.67],[2.16,-16.38],[2.24,-16.09],[2.31,-15.79],[2.38,-15.01],[2.44,-14.43],[2.51,-14.52],[2.56,-14.13],[2.61,-11.40],[2.66,-8.56],[2.72,-6.31],[2.77,-4.94],[2.81,-3.28],[2.87,-2.01],[2.93,-1.91],[2.98,-1.97],[3.02,-2.50],[3.09,-3.18],[3.14,-3.48],[3.20,-3.87],[3.25,-4.94],[3.30,-6.12],[3.34,-6.31],[3.44,-6.41],[3.48,-5.82],[3.53,-5.04],[3.60,-4.75],[3.67,-4.45],[3.73,-3.97],[3.79,-4.94],[3.85,-5.14],[3.92,-5.24],[3.97,-6.51],[4.04,-7.09],[4.10,-7.68],[4.16,-7.88],[4.20,-9.44],[4.25,-11.20],[4.30,-11.98],[4.36,-12.96],[4.42,-14.13],[4.45,-14.13],[4.50,-12.57],[4.57,-10.81],[4.62,-9.83],[4.66,-5.63],[4.71,-6.80],[4.78,-6.86],[4.84,-6.70],[4.90,-6.31],[4.96,-6.35],[5.03,-6.21],[5.08,-6.12],[5.13,-5.92],[5.17,-7.88],[5.24,-8.37],[5.28,-9.05],[5.33,-9.83],[5.38,-8.27],[5.45,-7.49],[5.52,-7.00],[5.56,-7.10],[5.61,-7.88],[5.66,-8.66],[5.73,-8.95],[5.79,-11.59],[5.86,-12.86],[5.93,-13.45],[6.01,-13.31],[6.07,-13.35],[6.16,-13.64],[6.23,-13.84],[6.28,-14.13],[6.35,-13.84],[6.44,-13.74],[6.51,-13.15],[6.56,-13.64],[6.63,-13.84],[6.69,-14.62],[6.75,-14.82],[6.81,-14.43],[6.88,-14.33],[6.95,-13.64],[7.02,-13.74],[7.09,-13.74],[7.15,-13.90],[7.21,-13.35],[7.27,-13.15],[7.34,-12.67],[7.41,-11.98],[7.49,-12.18],[7.55,-12.67],[7.62,-12.96],[7.69,-12.76],[7.76,-12.67],[7.83,-12.37],[7.89,-12.18],[7.97,-12.18],[8.04,-11.88],[8.10,-12.18],[8.20,-12.18],[8.29,-12.28],[8.34,-11.79],[8.41,-11.69],[8.48,-11.63],[8.54,-12.37],[8.60,-13.15],[8.66,-13.55],[8.73,-13.84],[8.80,-13.94],[8.89,-13.94],[8.96,-13.84],[9.01,-12.76],[9.06,-11.79],[9.12,-11.59],[9.18,-11.30],[9.24,-11.59],[9.28,-12.08],[9.35,-12.57],[9.42,-12.76],[9.49,-13.25],[9.55,-13.64],[9.61,-14.03],[9.66,-14.82],[9.73,-14.52],[9.80,-14.43],[9.88,-14.13],[9.95,-14.33],[10.05,-14.33],[10.14,-14.23],[10.23,-14.03],[10.32,-13.84],[10.42,-13.64],[10.48,-13.74],[10.55,-13.70],[10.60,-14.23],[10.65,-15.31],[10.72,-16.09],[10.79,-16.48],[10.85,-17.16],[10.90,-17.46],[10.97,-17.75],[11.04,-18.43],[11.09,-18.53],[11.15,-18.53],[11.22,-18.53],[11.28,-17.85],[11.34,-16.87],[11.40,-16.38],[11.48,-15.31]];
const dourados2026 = [[0.00,-13.84],[0.04,-14.23],[0.09,-13.98],[0.16,-13.64],[0.20,-12.86],[0.25,-12.28],[0.30,-11.79],[0.37,-11.49],[0.41,-11.20],[0.45,-10.42],[0.48,-10.38],[0.52,-11.20],[0.57,-11.59],[0.61,-12.37],[0.67,-13.15],[0.72,-13.45],[0.74,-12.67],[0.80,-11.79],[0.85,-11.20],[0.91,-10.85],[0.99,-11.36],[1.05,-11.63],[1.11,-12.96],[1.15,-14.43],[1.22,-14.72],[1.29,-14.91],[1.36,-14.82],[1.42,-15.21],[1.48,-15.50],[1.54,-15.70],[1.61,-16.19],[1.68,-16.48],[1.76,-16.38],[1.82,-16.28],[1.89,-15.99],[1.96,-16.19],[2.03,-16.38],[2.08,-16.87],[2.14,-17.07],[2.22,-16.87],[2.28,-16.97],[2.35,-16.48],[2.41,-16.09],[2.47,-15.99],[2.51,-15.89],[2.59,-16.28],[2.65,-16.48],[2.72,-16.48],[2.77,-16.09],[2.84,-15.60],[2.90,-15.70],[2.98,-15.99],[3.05,-15.70],[3.11,-15.40],[3.18,-15.21],[3.23,-13.74],[3.30,-12.96],[3.36,-12.57],[3.42,-12.28],[3.46,-11.69],[3.51,-11.00],[3.55,-10.61],[3.60,-10.71],[3.67,-10.90],[3.71,-11.79],[3.76,-12.96],[3.83,-13.15],[3.88,-13.35],[3.95,-13.35],[3.99,-13.55],[4.07,-13.35],[4.13,-13.06],[4.20,-12.96],[4.27,-12.86],[4.34,-12.96],[4.38,-12.67],[4.43,-11.79],[4.47,-11.69],[4.55,-11.79],[4.60,-12.18],[4.64,-12.57],[4.69,-13.25],[4.75,-13.15],[4.81,-12.86],[4.87,-12.33],[4.94,-12.18],[5.01,-12.02],[5.08,-11.69],[5.13,-12.08],[5.19,-12.28],[5.27,-12.28],[5.30,-13.25],[5.36,-13.25],[5.42,-13.25],[5.49,-13.15],[5.56,-12.96],[5.64,-12.86],[5.70,-12.76],[5.77,-12.86],[5.82,-13.35],[5.88,-13.74],[5.95,-13.94],[6.01,-14.43],[6.07,-14.82],[6.13,-15.01],[6.20,-14.91],[6.26,-15.21],[6.31,-15.11],[6.38,-14.91],[6.44,-14.72],[6.49,-15.89],[6.53,-16.28],[6.60,-16.87],[6.63,-17.85],[6.67,-19.31],[6.72,-19.51],[6.78,-19.41],[6.83,-19.31],[6.90,-19.41],[6.95,-18.34],[6.99,-18.04],[7.06,-17.85],[7.11,-16.87],[7.18,-16.48],[7.24,-16.67],[7.30,-16.97],[7.36,-17.94],[7.41,-18.43],[7.49,-18.63],[7.55,-19.22],[7.60,-19.02],[7.67,-18.34],[7.74,-18.34],[7.80,-18.43],[7.86,-18.73],[7.92,-18.82],[7.99,-18.92],[8.04,-19.22],[8.10,-19.41],[8.17,-19.41],[8.25,-19.31],[8.29,-18.43],[8.34,-16.97],[8.41,-16.58],[8.48,-15.89],[8.52,-16.87],[8.57,-19.31],[8.61,-20.00],[8.66,-20.68],[8.71,-21.85],[8.75,-21.66],[8.82,-21.46]];

const passoFundo2024 = [[0.00,-9.33],[0.05,-9.96],[0.10,-9.84],[0.14,-8.19],[0.19,-7.81],[0.26,-7.30],[0.30,-5.15],[0.35,-3.62],[0.39,-3.12],[0.46,-3.50],[0.53,-3.75],[0.59,-3.62],[0.66,-3.50],[0.71,-3.62],[0.77,-5.40],[0.84,-6.16],[0.91,-6.54],[0.98,-6.41],[1.04,-6.67],[1.10,-7.05],[1.15,-7.05],[1.21,-8.69],[1.26,-9.71],[1.33,-9.71],[1.40,-10.47],[1.46,-11.23],[1.53,-11.18],[1.60,-11.36],[1.66,-10.98],[1.73,-10.22],[1.80,-8.69],[1.87,-7.93],[1.93,-6.67],[2.00,-6.41],[2.07,-6.62],[2.14,-6.92],[2.20,-7.93],[2.27,-7.81],[2.34,-7.55],[2.41,-7.81],[2.47,-7.93],[2.53,-7.81],[2.60,-7.55],[2.65,-6.67],[2.69,-5.78],[2.74,-5.91],[2.80,-5.91],[2.87,-6.16],[2.94,-6.41],[3.01,-5.78],[3.07,-5.15],[3.12,-4.39],[3.19,-4.13],[3.25,-3.88],[3.30,-2.48],[3.37,-1.60],[3.43,-1.34],[3.50,-1.22],[3.57,-0.71],[3.63,-0.33],[3.69,0.18],[3.76,0.94],[3.81,1.44],[3.86,2.46],[3.93,2.46],[3.99,2.46],[4.04,1.32],[4.11,1.06],[4.17,0.68],[4.23,0.68],[4.29,1.06],[4.35,1.32],[4.42,1.57],[4.47,2.33],[4.53,2.21],[4.60,1.83],[4.67,1.70],[4.74,1.32],[4.80,1.32],[4.86,1.32],[4.92,3.22],[4.98,4.49],[5.04,5.37],[5.09,6.13],[5.16,7.27],[5.22,7.27],[5.29,7.02],[5.36,6.51],[5.43,6.26],[5.49,6.39],[5.56,6.64],[5.63,6.82],[5.69,6.89],[5.76,6.77],[5.83,7.02],[5.90,7.27],[5.96,7.27],[6.03,7.40],[6.10,7.15],[6.14,7.53],[6.20,7.66],[6.27,8.04],[6.32,8.16],[6.38,7.91],[6.45,7.66],[6.50,7.27],[6.54,6.26],[6.59,5.12],[6.63,3.98],[6.69,2.71],[6.77,0.43],[6.83,0.18],[6.90,0.05],[6.97,0.81],[7.04,1.32],[7.10,1.32],[7.17,1.57],[7.24,1.70],[7.33,2.08],[7.42,2.33],[7.51,2.41],[7.57,2.33],[7.64,2.08],[7.71,1.83],[7.78,1.70],[7.84,1.70],[7.90,1.44],[7.97,1.06],[8.04,0.68],[8.11,-0.20],[8.17,-0.33],[8.26,-0.38],[8.33,-0.46],[8.40,-0.84],[8.47,-0.46],[8.53,-0.33],[8.58,-1.34],[8.65,-2.61],[8.71,-3.75],[8.77,-4.26],[8.83,-3.50],[8.89,-2.36],[8.96,-2.10],[9.03,-1.85],[9.10,-2.36],[9.16,-2.48],[9.23,-2.41],[9.30,-1.22],[9.36,-0.84],[9.43,-0.71],[9.50,-0.46],[9.57,-0.58],[9.63,-1.09],[9.69,-1.60],[9.77,-3.12],[9.84,-3.50],[9.90,-4.01],[9.96,-4.13],[10.04,-4.08],[10.11,-4.13],[10.17,-3.75],[10.24,-3.88],[10.30,-3.88],[10.37,-4.01],[10.44,-3.75],[10.50,-3.88],[10.57,-4.13],[10.64,-3.24],[10.70,-1.85],[10.77,-0.46],[10.84,1.06],[10.88,1.32],[10.95,1.19],[11.02,1.06],[11.09,0.18],[11.15,0.05],[11.22,-0.20],[11.29,-0.58],[11.33,-2.10],[11.37,-4.39],[11.44,-4.64],[11.51,-4.77]];
const passoFundo2025 = [[0.00,-3.62],[0.05,-4.26],[0.12,-4.13],[0.19,-4.01],[0.26,-3.88],[0.30,-3.24],[0.37,-2.74],[0.41,-2.36],[0.46,-1.72],[0.50,-2.99],[0.56,-3.62],[0.64,-4.64],[0.68,-5.91],[0.72,-6.03],[0.77,-5.65],[0.81,-5.27],[0.86,-4.26],[0.92,-4.26],[0.98,-5.27],[1.04,-5.40],[1.10,-5.65],[1.15,-6.41],[1.21,-6.92],[1.28,-7.68],[1.35,-8.19],[1.40,-9.46],[1.44,-10.47],[1.49,-11.61],[1.55,-11.61],[1.62,-11.61],[1.69,-11.48],[1.75,-11.69],[1.84,-11.74],[1.89,-12.75],[1.93,-14.40],[1.98,-14.78],[2.05,-15.29],[2.11,-15.92],[2.16,-15.29],[2.23,-15.41],[2.29,-15.54],[2.35,-15.79],[2.41,-16.55],[2.44,-17.69],[2.51,-17.69],[2.56,-17.06],[2.60,-12.75],[2.65,-8.95],[2.69,-7.68],[2.74,-6.41],[2.78,-4.64],[2.83,-3.24],[2.89,-1.85],[2.96,-1.60],[3.03,-1.22],[3.10,-0.58],[3.19,-0.58],[3.25,-0.84],[3.30,-2.10],[3.37,-2.36],[3.43,-2.61],[3.50,-2.23],[3.57,-1.72],[3.63,-1.47],[3.72,-1.09],[3.79,-0.96],[3.86,-1.09],[3.95,-0.84],[4.02,-1.22],[4.08,-1.47],[4.14,-1.85],[4.22,-1.60],[4.29,-1.09],[4.35,-1.22],[4.42,-0.84],[4.47,-2.23],[4.50,-0.58],[4.56,1.19],[4.60,3.47],[4.65,5.50],[4.68,7.53],[4.74,7.40],[4.80,7.15],[4.86,6.77],[4.93,7.02],[5.00,7.15],[5.06,7.53],[5.13,7.27],[5.20,6.89],[5.27,6.51],[5.33,6.01],[5.40,6.06],[5.47,6.01],[5.54,6.26],[5.60,6.51],[5.67,6.39],[5.74,6.01],[5.81,5.25],[5.87,4.61],[5.94,4.28],[5.99,4.23],[6.05,4.99],[6.12,5.75],[6.19,6.13],[6.26,6.13],[6.32,5.88],[6.38,5.63],[6.45,5.37],[6.53,5.37],[6.59,4.36],[6.65,3.85],[6.71,2.97],[6.77,2.33],[6.86,2.33],[6.92,2.21],[6.97,1.95],[7.04,1.57],[7.10,1.32],[7.15,1.19],[7.21,2.08],[7.28,2.33],[7.35,2.71],[7.42,3.35],[7.51,3.35],[7.57,2.46],[7.62,1.95],[7.69,1.44],[7.78,1.32],[7.84,1.44],[7.93,1.70],[7.99,1.83],[8.06,2.08],[8.14,2.21],[8.20,2.08],[8.29,1.95],[8.38,2.21],[8.47,2.46],[8.53,1.83],[8.61,0.81],[8.68,0.56],[8.71,0.30],[8.77,0.68],[8.83,1.06],[8.92,1.19],[8.98,1.32],[9.05,1.70],[9.14,1.57],[9.21,1.32],[9.30,-0.20],[9.36,-0.33],[9.43,-0.38],[9.50,-0.20],[9.57,-0.58],[9.63,-0.96],[9.69,-1.47],[9.77,-1.09],[9.84,-0.84],[9.90,-0.58],[9.96,-1.09],[10.04,-1.22],[10.11,-1.47],[10.17,-1.72],[10.24,-1.47],[10.30,-1.22],[10.37,-0.84],[10.44,-0.96],[10.50,-1.09],[10.57,-2.10],[10.64,-3.37],[10.70,-4.39],[10.77,-4.89],[10.84,-5.15],[10.91,-5.53],[10.97,-6.03],[11.02,-7.17],[11.06,-7.93],[11.12,-8.19],[11.20,-8.06],[11.26,-6.79],[11.33,-6.16],[11.39,-5.91],[11.46,-5.40],[11.51,-5.15]];
const passoFundo2026 = [[0.00,-3.55],[0.06,-3.50],[0.12,-3.62],[0.17,-3.62],[0.23,-3.32],[0.30,-2.99],[0.37,-2.99],[0.41,-3.12],[0.46,-3.75],[0.50,-5.02],[0.56,-5.53],[0.62,-6.03],[0.65,-6.67],[0.71,-6.79],[0.77,-6.16],[0.83,-5.91],[0.90,-4.64],[0.97,-4.89],[1.04,-5.02],[1.10,-5.91],[1.15,-6.67],[1.21,-7.30],[1.28,-7.30],[1.35,-7.30],[1.42,-7.30],[1.49,-7.55],[1.55,-7.68],[1.62,-8.06],[1.67,-8.69],[1.71,-9.46],[1.78,-9.46],[1.84,-9.20],[1.91,-9.07],[1.98,-8.90],[2.05,-8.95],[2.11,-9.33],[2.18,-9.71],[2.25,-9.96],[2.32,-10.22],[2.38,-10.47],[2.44,-10.47],[2.51,-10.60],[2.58,-10.85],[2.64,-10.98],[2.71,-10.98],[2.78,-10.85],[2.86,-10.60],[2.92,-10.72],[2.98,-10.72],[3.03,-10.22],[3.10,-9.96],[3.14,-9.58],[3.19,-9.46],[3.23,-8.69],[3.28,-6.92],[3.32,-6.41],[3.39,-5.91],[3.43,-5.53],[3.48,-4.39],[3.55,-2.86],[3.61,-2.81],[3.68,-2.48],[3.72,-3.37],[3.77,-4.01],[3.84,-4.39],[3.93,-4.26],[3.99,-4.13],[4.05,-3.88],[4.11,-3.50],[4.14,-2.61],[4.20,-1.85],[4.26,-1.60],[4.32,-1.34],[4.38,-0.96],[4.44,-0.58],[4.49,-0.46],[4.53,-0.58],[4.57,-0.84],[4.62,-1.34],[4.66,-2.23],[4.71,-2.23],[4.77,-2.10],[4.84,-1.60],[4.90,-0.96],[4.98,-0.71],[5.04,-0.46],[5.09,-0.08],[5.14,-0.33],[5.20,-0.33],[5.27,-0.58],[5.33,-0.33],[5.38,0.05],[5.45,0.05],[5.51,0.30],[5.58,0.56],[5.65,0.76],[5.72,0.94],[5.78,0.99],[5.85,0.68],[5.92,0.56],[5.99,0.30],[6.05,-0.13],[6.12,-0.28],[6.19,-0.28],[6.26,-0.58],[6.32,-0.71],[6.38,-0.96],[6.45,-0.84],[6.50,-1.22],[6.54,-2.23],[6.59,-2.86],[6.65,-3.62],[6.71,-5.40],[6.74,-6.41],[6.81,-6.41],[6.88,-6.41],[6.95,-5.78],[6.99,-5.27],[7.06,-4.89],[7.12,-4.01],[7.17,-3.12],[7.22,-2.74],[7.28,-2.81],[7.35,-3.24],[7.42,-4.39],[7.51,-4.51],[7.57,-5.02],[7.63,-5.78],[7.71,-6.03],[7.78,-6.29],[7.84,-6.54],[7.90,-6.41],[7.97,-6.29],[8.04,-6.03],[8.11,-5.78],[8.17,-5.65],[8.22,-5.40],[8.26,-4.64],[8.33,-4.39],[8.40,-4.39],[8.46,-3.93],[8.51,-4.89],[8.56,-6.67],[8.62,-7.55],[8.67,-8.19],[8.71,-9.20],[8.76,-8.95],[8.83,-8.57],[8.87,-8.31]];

const series = [
  [campinas2024, campinas2025, campinas2026],
  [sorriso2024, sorriso2025, sorriso2026],
  [rioVerde2024, rioVerde2025, rioVerde2026],
  [rondonopolis2024, rondonopolis2025, rondonopolis2026],
  [dourados2024, dourados2025, dourados2026],
  [passoFundo2024, passoFundo2025, passoFundo2026]
];

// ---- styling / layout ----
const yearColors = ["#a0a0a0", "#2f7be0", "#000000"];
const yearWidths = [3.4, 3.8, 5.6];
const colLeft = [89, 1122, 2156], rowTop = [189, 896];
const PW = 860, PH = 537;
const M = {l: 88, r: 12, t: 6, b: 110};

function fmt(v) {
  let n = Math.abs(Math.abs(v % 1) - 0.5) < 1e-9 ? 2 * Math.round(v / 2) : Math.round(v);
  if (Object.is(n, -0)) n = 0;
  return String(n);
}

const root = document.getElementById("root");

// legend
const legX = [1189, 1421, 1653];
years.forEach((y, j) => {
  const sw = document.createElement("div");
  sw.className = "sw";
  sw.style.left = legX[j] + "px";
  sw.style.width = "71px";
  sw.style.top = (48 - yearWidths[j] * 0.7) + "px";
  sw.style.borderTop = (yearWidths[j] * 1.4).toFixed(1) + "px solid " + yearColors[j];
  root.appendChild(sw);
  const t = document.createElement("div");
  t.className = "leg";
  t.style.left = (legX[j] + 94) + "px";
  t.style.top = (48 - 20) + "px";
  t.textContent = y;
  root.appendChild(t);
});

cities.forEach((city, i) => {
  const col = i % 3, row = Math.floor(i / 3);
  const [s24, s25, s26] = series[i];
  const vals = [...s24, ...s25, ...s26].map(d => d[1]);
  const lo = d3.min(vals), hi = d3.max(vals), pad = (hi - lo) * 0.05;
  const yd = [lo - pad, hi + pad];
  const step = tickSteps[i];
  const yt = d3.range(Math.ceil(yd[0] / step), Math.floor(yd[1] / step) + 1).map(k => k * step);

  const marks = [
    Plot.frame({fill: "#f0f1f5", stroke: null}),
    Plot.ruleY(yt, {stroke: "#ffffff", strokeWidth: 2.2})
  ];
  if (yd[0] < 0 && yd[1] > 0) {
    marks.push(Plot.ruleY([0], {stroke: "#d2d2d2", strokeWidth: 1.8, strokeDasharray: "4,11"}));
  }
  [s24, s25, s26].forEach((s, j) => {
    marks.push(Plot.line(s, {x: d => d[0], y: d => d[1], stroke: yearColors[j], strokeWidth: yearWidths[j], strokeLinejoin: "round", clip: true}));
  });
  marks.push(Plot.axisY({ticks: yt, tickFormat: fmt, tickSize: 15, tickPadding: 14, fontSize: 25, strokeWidth: 2.6}));
  marks.push(Plot.axisX({ticks: d3.range(12), tickFormat: k => months[k], tickRotate: -30, tickSize: 15, tickPadding: 30, fontSize: 25, strokeWidth: 2.6}));
  marks.push(Plot.ruleX([-0.5], {stroke: "#000", strokeWidth: 2.8}));
  marks.push(Plot.ruleY([yd[0]], {stroke: "#000", strokeWidth: 2.8}));

  const svg = Plot.plot({
    width: PW + M.l + M.r,
    height: PH + M.t + M.b,
    marginLeft: M.l, marginRight: M.r, marginTop: M.t, marginBottom: M.b,
    x: {domain: [-0.5, 11.5]},
    y: {domain: yd},
    style: {fontFamily: '"Liberation Sans", Arial, Helvetica, sans-serif', fontSize: "25px", color: "#000", background: "transparent", overflow: "visible"},
    marks
  });
  const wrap = document.createElement("div");
  wrap.className = "panel";
  wrap.style.left = (colLeft[col] - M.l) + "px";
  wrap.style.top = (rowTop[row] - M.t) + "px";
  wrap.appendChild(svg);
  root.appendChild(wrap);

  const t = document.createElement("div");
  t.className = "title";
  t.style.left = colLeft[col] + "px";
  t.style.width = PW + "px";
  t.style.top = (rowTop[row] - 32 - 20) + "px";
  t.textContent = city;
  root.appendChild(t);
});
</script></body></html>
